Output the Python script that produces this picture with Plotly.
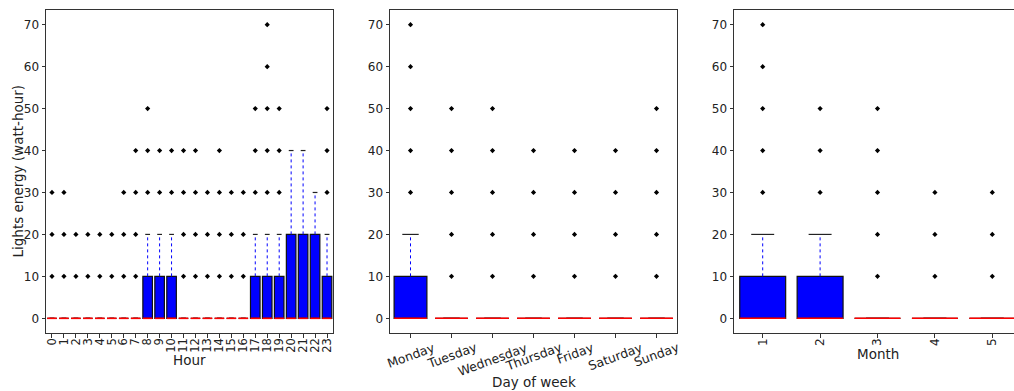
import plotly.graph_objects as go

# ---------------- data ----------------
hour_labels = [str(h) for h in range(24)]
hour_q1 = [0] * 24
hour_median = [0] * 24
hour_q3 = [0, 0, 0, 0, 0, 0, 0, 0, 10, 10, 10, 0, 0, 0, 0, 0, 0, 10, 10, 10, 20, 20, 20, 10]
hour_upper = [0, 0, 0, 0, 0, 0, 0, 0, 20, 20, 20, 0, 0, 0, 0, 0, 0, 20, 20, 20, 40, 40, 30, 20]
hour_outliers = [
    [10, 20, 30], [10, 20, 30], [10, 20], [10, 20], [10, 20], [10, 20],
    [10, 20, 30], [10, 20, 30, 40], [30, 40, 50], [30, 40], [30, 40],
    [10, 20, 30, 40], [10, 20, 30, 40], [10, 20, 30], [10, 20, 30, 40],
    [10, 20, 30], [10, 20, 30], [30, 40, 50], [30, 40, 50, 60, 70],
    [30, 40, 50], [], [], [], [30, 40, 50],
]

day_labels = ["Monday", "Tuesday", "Wednesday", "Thursday", "Friday", "Saturday", "Sunday"]
day_q1 = [0] * 7
day_median = [0] * 7
day_q3 = [10, 0, 0, 0, 0, 0, 0]
day_upper = [20, 0, 0, 0, 0, 0, 0]
day_outliers = [
    [30, 40, 50, 60, 70], [10, 20, 30, 40, 50], [10, 20, 30, 40, 50],
    [10, 20, 30, 40], [10, 20, 30, 40], [10, 20, 30, 40], [10, 20, 30, 40, 50],
]

month_labels = ["1", "2", "3", "4", "5"]
month_q1 = [0] * 5
month_median = [0] * 5
month_q3 = [10, 10, 0, 0, 0]
month_upper = [20, 20, 0, 0, 0]
month_outliers = [
    [30, 40, 50, 60, 70], [30, 40, 50], [10, 20, 30, 40, 50], [10, 20, 30], [10, 20, 30],
]

y_ticks = [0, 10, 20, 30, 40, 50, 60, 70]

# ---------------- figure ----------------
W, H = 1014, 391
fig = go.Figure()

BOX_W = 0.8
CAP_HALF = 0.2
FONT = "DejaVu Sans"
SPINE = "#333333"
TXT = "#222222"
TICK_SIZE = 12
TITLE_SIZE = 13.5


def add_boxes(labels, q1, med, q3, upper, outliers, xa, ya):
    pos = list(range(1, len(labels) + 1))
    fig.add_trace(go.Bar(
        x=pos, base=q1, y=[b - a for a, b in zip(q1, q3)], width=BOX_W,
        marker=dict(color="#0000ff", line=dict(color="#111111", width=1.2)),
        xaxis=xa, yaxis=ya, showlegend=False, hoverinfo="skip",
    ))
    wx, wy = [], []
    for p, a, b in zip(pos, q3, upper):
        if b > a:
            wx += [p, p, None]
            wy += [a, b, None]
    fig.add_trace(go.Scatter(
        x=wx, y=wy, mode="lines", line=dict(color="#0000ff", width=1, dash="dot"),
        xaxis=xa, yaxis=ya, showlegend=False, hoverinfo="skip",
    ))
    cx, cy = [], []
    for p, lo, b in zip(pos, q1, upper):
        for v in (lo, b):
            cx += [p - CAP_HALF, p + CAP_HALF, None]
            cy += [v, v, None]
    fig.add_trace(go.Scatter(
        x=cx, y=cy, mode="lines", line=dict(color="#222222", width=1.2),
        xaxis=xa, yaxis=ya, showlegend=False, hoverinfo="skip",
    ))
    mx, my = [], []
    for p, m in zip(pos, med):
        mx += [p - BOX_W / 2, p + BOX_W / 2, None]
        my += [m, m, None]
    fig.add_trace(go.Scatter(
        x=mx, y=my, mode="lines", line=dict(color="#ff0000", width=1.6),
        xaxis=xa, yaxis=ya, showlegend=False, hoverinfo="skip",
    ))
    ox, oy = [], []
    for p, outs in zip(pos, outliers):
        for v in outs:
            ox.append(p)
            oy.append(v)
    fig.add_trace(go.Scatter(
        x=ox, y=oy, mode="markers",
        marker=dict(symbol="diamond", size=4, color="#000000", line=dict(width=0)),
        xaxis=xa, yaxis=ya, showlegend=False, hoverinfo="skip",
    ))
    return pos


p1 = add_boxes(hour_labels, hour_q1, hour_median, hour_q3, hour_upper, hour_outliers, "x", "y")
p2 = add_boxes(day_labels, day_q1, day_median, day_q3, day_upper, day_outliers, "x2", "y2")
p3 = add_boxes(month_labels, month_q1, month_median, month_q3, month_upper, month_outliers, "x3", "y3")

ydom = [1 - 333 / H, 1 - 10 / H]

common_x = dict(
    showline=True, linecolor=SPINE, linewidth=1, mirror=True,
    ticks="outside", ticklen=3.5, tickcolor=SPINE, tickwidth=1,
    showgrid=False, zeroline=False, automargin=False,
    tickfont=dict(family=FONT, size=TICK_SIZE, color=TXT),
)
common_y = dict(
    showline=True, linecolor=SPINE, linewidth=1, mirror=True,
    ticks="outside", ticklen=3.5, tickcolor=SPINE, tickwidth=1,
    showgrid=False, zeroline=False, automargin=False,
    range=[-3.5, 73.5], tickvals=y_ticks, ticktext=[str(v) for v in y_ticks],
    domain=ydom,
    tickfont=dict(family=FONT, size=TICK_SIZE, color=TXT),
)

# panel 3 is cut at the right edge of the image
px3 = 287 / len(month_labels)
x3_end = 0.5 + (W - 734) / px3

annotations = []
for p, lab in zip(p2, day_labels):
    annotations.append(dict(
        x=p, y=1 - 337 / H, xref="x2", yref="paper", text=lab, showarrow=False,
        textangle=-20, xanchor="center", yanchor="top",
        font=dict(family=FONT, size=12.5, color=TXT),
    ))


def title_ann(text, xc, yc, angle=0):
    return dict(
        x=xc / W, y=1 - yc / H, xref="paper", yref="paper", text=text,
        showarrow=False, xanchor="center", yanchor="middle", textangle=angle,
        font=dict(family=FONT, size=TITLE_SIZE, color=TXT),
    )


annotations.append(title_ann("Hour", (46 + 333) / 2, 360))
annotations.append(title_ann("Day of week", (390 + 677) / 2, 382))
annotations.append(title_ann("Month", (734 + 1021) / 2, 354))
annotations.append(title_ann("Lights energy (watt-hour)", 17, (10 + 333) / 2, -90))

fig.update_layout(
    width=W, height=H,
    margin=dict(l=0, r=0, t=0, b=0),
    paper_bgcolor="white", plot_bgcolor="white",
    barmode="overlay",
    font=dict(family=FONT),
    annotations=annotations,
    xaxis=dict(common_x, domain=[46 / W, 333 / W], range=[0.5, len(hour_labels) + 0.5],
               tickvals=p1, ticktext=hour_labels, tickangle=-90, anchor="y",
               ticklabelstandoff=-4,
               tickfont=dict(family=FONT, size=11.5, color=TXT)),
    yaxis=dict(common_y, anchor="x"),
    xaxis2=dict(common_x, domain=[390 / W, 677 / W], range=[0.5, len(day_labels) + 0.5],
                tickvals=p2, ticktext=day_labels, showticklabels=False, anchor="y2"),
    yaxis2=dict(common_y, anchor="x2"),
    xaxis3=dict(common_x, domain=[734 / W, 1.0], range=[0.5, x3_end],
                tickvals=p3, ticktext=month_labels, tickangle=-90, anchor="y3",
                ticklabelstandoff=-4),
    yaxis3=dict(common_y, anchor="x3", mirror=False),
)

fig.write_html("out.html")
